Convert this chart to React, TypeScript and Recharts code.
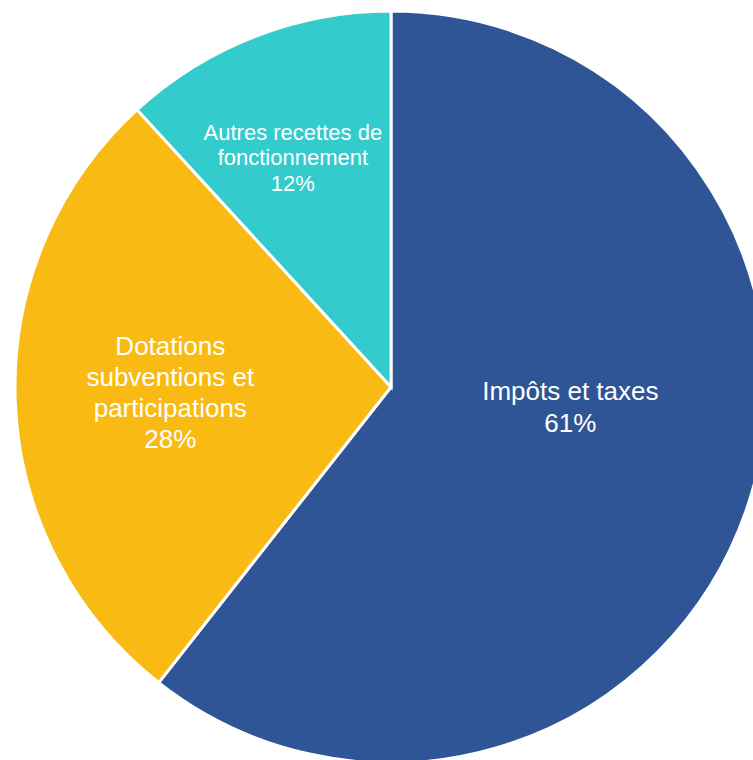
import React from "react";
import { PieChart, Pie, Cell } from "recharts";

const categories = ["Impôts et taxes", "Dotations subventions et participations", "Autres recettes de fonctionnement"];
const values = [60.6, 27.6, 11.8];
const percentLabels = ["61%", "28%", "12%"];
const labelLines = [
  ["Impôts et taxes"],
  ["Dotations", "subventions et", "participations"],
  ["Autres recettes de", "fonctionnement"],
];

const colors = ["#2F5597", "#F9BA14", "#33CBCC"];
// label placement as fractions of radius (first baseline), font size, line height
const labelLayout = [
  { fx: 0.477, fy: 0.035, size: 26, lh: 32 },
  { fx: -0.587, fy: -0.085, size: 26, lh: 31 },
  { fx: -0.261, fy: -0.658, size: 22, lh: 25.5 },
];

const data = categories.map((name, i) => ({ name, value: values[i], index: i }));

const renderLabel = (props: any) => {
  const { cx, cy, outerRadius, index } = props;
  const lay = labelLayout[index];
  const x = cx + lay.fx * outerRadius;
  const y = cy + lay.fy * outerRadius;
  const lines = [...labelLines[index], percentLabels[index]];
  return (
    <text
      x={x}
      y={y}
      fill="#FFFFFF"
      textAnchor="middle"
      fontSize={lay.size}
      fontFamily="'Liberation Sans', Arial, sans-serif"
    >
      {lines.map((l, k) => (
        <tspan key={k} x={x} y={y + k * lay.lh}>
          {l}
        </tspan>
      ))}
    </text>
  );
};

export default function App() {
  return (
    <div style={{ position: "absolute", left: 0, top: 0, width: 753, height: 760, overflow: "hidden" }}>
      <PieChart width={753} height={760} margin={{ top: 0, right: 0, bottom: 0, left: 0 }}>
        <Pie
          data={data}
          dataKey="value"
          nameKey="name"
          cx={391}
          cy={387}
          outerRadius={376}
          startAngle={90}
          endAngle={-270}
          stroke="#FFFFFF"
          strokeWidth={3}
          label={renderLabel}
          labelLine={false}
          isAnimationActive={false}
        >
          {data.map((d, i) => (
            <Cell key={d.name} fill={colors[i]} />
          ))}
        </Pie>
      </PieChart>
    </div>
  );
}
